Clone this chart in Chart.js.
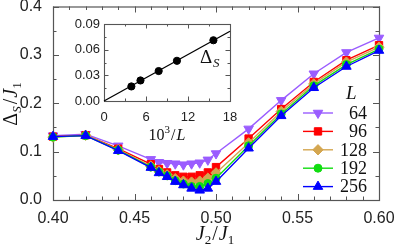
<!DOCTYPE html>
<html><head><meta charset="utf-8">
<script src="https://cdn.jsdelivr.net/npm/chart.js@4/dist/chart.umd.min.js"></script>
<style>
html,body{margin:0;padding:0;background:#fff;}
#wrap{position:relative;width:395px;height:248px;}
#main{position:absolute;left:0;top:0;}
#inset{position:absolute;left:60px;top:15px;}
</style></head>
<body><div id="wrap"><canvas id="main" width="395" height="248"></canvas><canvas id="inset" width="180" height="130"></canvas></div>
<script>
// ---- data ----
const J2 = [0.40,0.42,0.44,0.46,0.465,0.47,0.475,0.48,0.485,0.49,0.495,0.50,0.52,0.54,0.56,0.58,0.60];
const gapL64  = [0.133,0.136,0.112,0.084,0.078,0.076,0.075,0.073,0.075,0.077,0.083,0.096,0.147,0.206,0.261,0.305,0.335];
const gapL96  = [0.131,0.134,0.106,0.074,0.064,0.057,0.051,0.048,0.048,0.051,0.057,0.068,0.127,0.188,0.244,0.289,0.320];
const gapL128 = [0.130,0.134,0.104,0.070,0.060,0.052,0.044,0.039,0.037,0.039,0.045,0.056,0.118,0.183,0.240,0.285,0.316];
const gapL192 = [0.130,0.133,0.103,0.068,0.058,0.050,0.040,0.033,0.028,0.028,0.034,0.045,0.112,0.178,0.236,0.280,0.312];
const gapL256 = [0.131,0.133,0.102,0.067,0.056,0.048,0.038,0.031,0.024,0.020,0.024,0.038,0.107,0.174,0.232,0.276,0.309];
const sizes = ['64','96','128','192','256'];
const xTicks = [0.40,0.45,0.50,0.55,0.60];
const yTicks = [0.0,0.1,0.2,0.3,0.4];
// inset: 10^3/L vs extrapolated gap
const invL = [3.91,5.21,7.81,10.42,15.63];
const gapMin = [0.017,0.024,0.035,0.047,0.071];
const fitX = [0,18];
const fitY = [0,0.0815];
const insetXTicks = [0,6,12,18];
const insetYTicks = [0.00,0.03,0.06,0.09];

const series = [gapL64,gapL96,gapL128,gapL192,gapL256];
const colors = ['#9a5cff','#ff0000','#d4a650','#11dd11','#0000ff'];
const shapes = [{s:'triangle',rot:180,r:5.5},{s:'rect',rot:0,r:5.2},{s:'rectRot',rot:0,r:5.2},{s:'circle',rot:0,r:4},{s:'triangle',rot:0,r:5.5}];

const SANS = "'Liberation Sans', Arial, sans-serif";
const SERIF = "'Liberation Serif', 'Times New Roman', serif";

function drawPt(ctx, shape, x, y, color){
  ctx.save();
  ctx.fillStyle=color; ctx.strokeStyle=color; ctx.lineWidth=1;
  if (Chart.helpers && Chart.helpers.drawPoint){
    Chart.helpers.drawPoint(ctx,{pointStyle:shape.s,rotation:shape.rot,radius:shape.r,borderWidth:1},x,y);
  }
  ctx.restore();
}

function frameTicks(chart, o){
  const {ctx, chartArea:{left,right,top,bottom}, scales:{x,y}} = chart;
  ctx.save();
  ctx.strokeStyle=o.color; ctx.lineWidth=o.lw;
  ctx.beginPath();
  const eps=1e-9;
  for (let v=x.min; v<=x.max+eps; v+=o.xMinor){
    const n=Math.round((v-x.min)/o.xMinor);
    const major = Math.abs(((v)/o.xMajor)-Math.round(v/o.xMajor))<1e-6;
    const L = major?o.major:o.minor;
    const px=Math.round(x.getPixelForValue(v))+0.5;
    ctx.moveTo(px,bottom); ctx.lineTo(px,bottom-L);
    ctx.moveTo(px,top); ctx.lineTo(px,top+L);
  }
  for (let v=y.min; v<=y.max+eps; v+=o.yMinor){
    const major = Math.abs((v/o.yMajor)-Math.round(v/o.yMajor))<1e-6;
    const L = major?o.major:o.minor;
    const py=Math.round(y.getPixelForValue(v))+0.5;
    ctx.moveTo(left,py); ctx.lineTo(left+L,py);
    ctx.moveTo(right,py); ctx.lineTo(right-L,py);
  }
  ctx.stroke();
  ctx.lineWidth=o.frameLw;
  ctx.strokeRect(left+0.5,top+0.5,right-left,bottom-top);
  ctx.restore();
}

// draw sequence of text pieces [{t,font,dy}] starting at x (in current transform)
function pieces(ctx, list, cx, baseY){
  let w=0;
  list.forEach(p=>{ctx.font=p.font; p.w=ctx.measureText(p.t).width+(p.gap||0); w+=p.w;});
  let x=cx-w/2;
  list.forEach(p=>{ctx.font=p.font; ctx.fillText(p.t,x,baseY+(p.dy||0)); x+=p.w;});
}

const mainPlugin = {
  id:'mainDeco',
  beforeDatasetsDraw(chart){
    frameTicks(chart,{color:'#555',lw:1,frameLw:1.2,xMinor:0.01,xMajor:0.05,yMinor:0.05,yMajor:0.1,major:6,minor:3.5});
  },
  afterDraw(chart){
    const ctx=chart.ctx;
    ctx.save();
    ctx.fillStyle='#111'; ctx.textBaseline='alphabetic'; ctx.textAlign='left';
    // x title J2/J1
    pieces(ctx,[
      {t:'J',font:`italic 20px ${SERIF}`},
      {t:'2',font:`13px ${SERIF}`,dy:4,gap:1},
      {t:'/',font:`20px ${SERIF}`,gap:1},
      {t:'J',font:`italic 20px ${SERIF}`},
      {t:'1',font:`13px ${SERIF}`,dy:4}
    ], 215, 240);
    // y title ΔS/J1
    ctx.save();
    ctx.translate(17,104); ctx.rotate(-Math.PI/2);
    pieces(ctx,[
      {t:'\u0394',font:`20px ${SERIF}`},
      {t:'S',font:`italic 13px ${SERIF}`,dy:4,gap:2},
      {t:'/',font:`20px ${SERIF}`,gap:1},
      {t:'J',font:`italic 20px ${SERIF}`},
      {t:'1',font:`13px ${SERIF}`,dy:4}
    ], 0, 0);
    ctx.restore();
    // legend
    ctx.font=`italic 19px ${SERIF}`;
    ctx.fillText('L',346,99);
    const y0=113, dy=18.4;
    sizes.forEach((lab,i)=>{
      const yy=y0+i*dy;
      ctx.strokeStyle=colors[i]; ctx.lineWidth=1.4;
      ctx.beginPath(); ctx.moveTo(303,yy); ctx.lineTo(333,yy); ctx.stroke();
      drawPt(ctx,shapes[i],318,yy,colors[i]);
      ctx.fillStyle='#111';
      ctx.font=`18px ${SERIF}`; ctx.textAlign='right'; ctx.textBaseline='middle';
      ctx.fillText(lab,367,yy+1);
      ctx.textAlign='left'; ctx.textBaseline='alphabetic';
    });
    ctx.restore();
  }
};

const mainDatasets = series.map((vals,i)=>({
  label:'L = '+sizes[i],
  data: J2.map((x,k)=>({x, y: vals[k]})),
  borderColor: colors[i], backgroundColor: colors[i],
  borderWidth: 1.4,
  pointStyle: shapes[i].s, rotation: shapes[i].rot, pointRadius: shapes[i].r,
  pointBorderWidth:1,
  order: 4-i,
  clip: false
}));

new Chart(document.getElementById('main'),{
  type:'line',
  data:{datasets:mainDatasets},
  options:{
    responsive:false, animation:false, devicePixelRatio:1,
    layout:{padding:{top:6,right:16,left:0,bottom:0}},
    plugins:{legend:{display:false},tooltip:{enabled:false}},
    scales:{
      x:{type:'linear',min:0.40,max:0.60,
        afterBuildTicks(s){ s.ticks = xTicks.map(v=>({value:v})); },
        ticks:{callback:v=>Number(v).toFixed(2),font:{family:SANS,size:16},color:'#222',padding:9,maxRotation:0,autoSkip:false},
        grid:{display:false,drawTicks:false}, border:{display:false},
        afterFit(s){ s.height=48; s.paddingLeft=0; s.paddingRight=0; }
      },
      y:{type:'linear',min:0,max:0.4,
        afterBuildTicks(s){ s.ticks = yTicks.map(v=>({value:v})); },
        ticks:{callback:v=>Number(v).toFixed(1),font:{family:SANS,size:16},color:'#222',padding:11},
        grid:{display:false,drawTicks:false}, border:{display:false},
        afterFit(s){ s.width=53; s.paddingTop=0; s.paddingBottom=0; }
      }
    }
  },
  plugins:[mainPlugin]
});

const insetPlugin = {
  id:'insetDeco',
  beforeDatasetsDraw(chart){
    frameTicks(chart,{color:'#555',lw:1,frameLw:1.1,xMinor:3,xMajor:6,yMinor:0.015,yMajor:0.03,major:4.5,minor:2.5});
  },
  afterDraw(chart){
    const ctx=chart.ctx;
    ctx.save(); ctx.fillStyle='#111'; ctx.textBaseline='alphabetic'; ctx.textAlign='left';
    // 10^3/L
    pieces(ctx,[
      {t:'10',font:`16px ${SERIF}`},
      {t:'3',font:`11px ${SERIF}`,dy:-7,gap:1},
      {t:'/',font:`16px ${SERIF}`,gap:1},
      {t:'L',font:`italic 16px ${SERIF}`}
    ], 107, 125);
    // Delta_S label
    ctx.font=`19px ${SERIF}`; ctx.fillText('\u0394',140,48);
    ctx.font=`italic 13px ${SERIF}`; ctx.fillText('S',153,52);
    ctx.restore();
  }
};

new Chart(document.getElementById('inset'),{
  type:'scatter',
  data:{datasets:[
    {data: invL.map((x,k)=>({x,y:gapMin[k]})), backgroundColor:'#000', borderColor:'#000', pointRadius:3.6, showLine:false, clip:false},
    {data: fitX.map((x,k)=>({x,y:fitY[k]})), borderColor:'#000', borderWidth:1.3, pointRadius:0, showLine:true, clip:false}
  ]},
  options:{
    responsive:false, animation:false, devicePixelRatio:1,
    layout:{padding:{top:9,right:10,left:0,bottom:0}},
    plugins:{legend:{display:false},tooltip:{enabled:false}},
    scales:{
      x:{type:'linear',min:0,max:18,
        afterBuildTicks(s){ s.ticks = insetXTicks.map(v=>({value:v})); },
        ticks:{font:{family:SANS,size:13},color:'#222',padding:9,maxRotation:0,autoSkip:false},
        grid:{display:false,drawTicks:false}, border:{display:false},
        afterFit(s){ s.height=44; s.paddingLeft=0; s.paddingRight=0; }
      },
      y:{type:'linear',min:0,max:0.09,
        afterBuildTicks(s){ s.ticks = insetYTicks.map(v=>({value:v})); },
        ticks:{callback:v=>Number(v).toFixed(2),font:{family:SANS,size:13},color:'#222',padding:4},
        grid:{display:false,drawTicks:false}, border:{display:false},
        afterFit(s){ s.width=44; s.paddingTop=0; s.paddingBottom=0; }
      }
    }
  },
  plugins:[insetPlugin]
});
</script>
</body></html>
